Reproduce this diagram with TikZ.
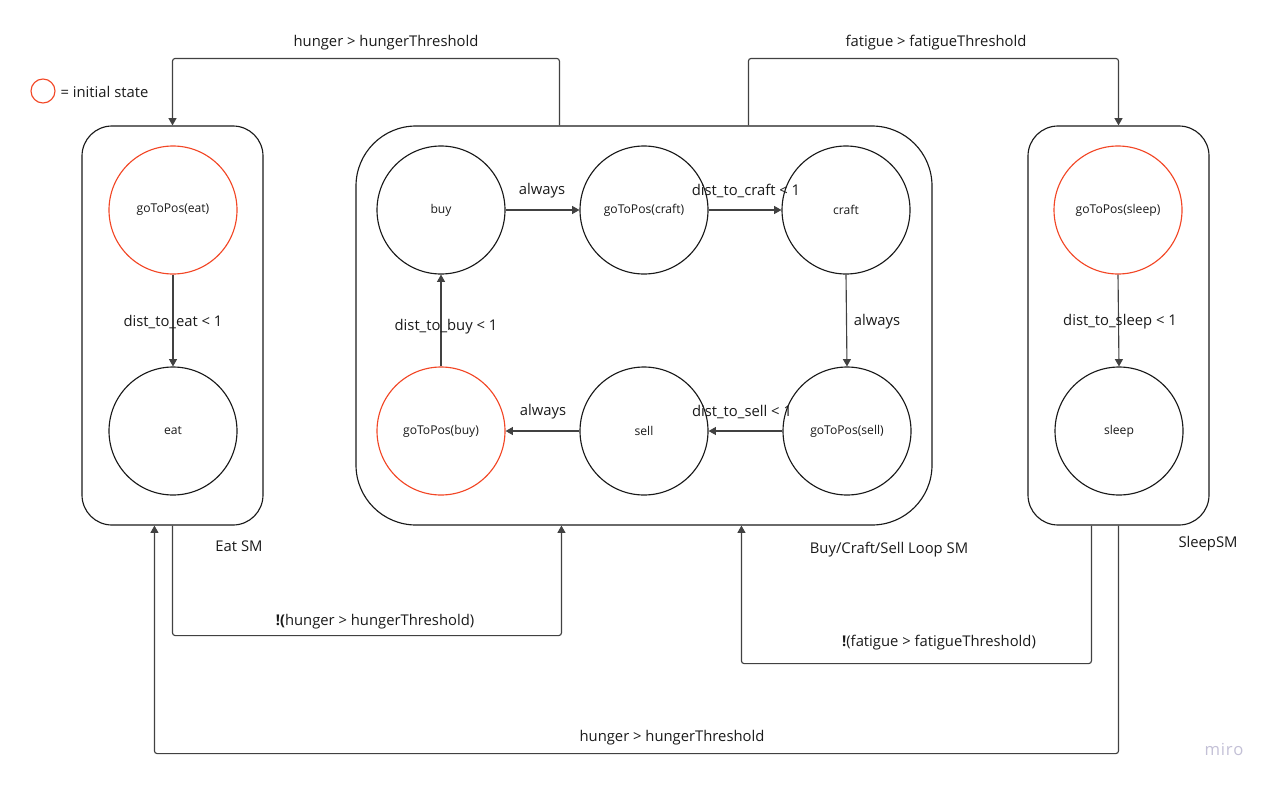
\documentclass[tikz,border=0pt]{standalone}
\usepackage{fontspec}
\setmainfont{Open Sans}
\usetikzlibrary{arrows.meta,calc,shapes.geometric}
\definecolor{mred}{HTML}{F24726}
\definecolor{mline}{HTML}{1A1A1A}
\definecolor{mconn}{HTML}{414141}
\definecolor{mtext}{HTML}{1A1A1A}
\definecolor{mwm}{HTML}{C3C0D6}
\tikzset{
  st/.style={circle,draw=mline,line width=0.85pt,minimum size=96pt,inner sep=0pt,font=\fontsize{9.1}{11}\selectfont,text=mtext},
  ist/.style={st,draw=mred},
  smbox/.style={draw=mline,line width=0.85pt,rounded corners=22.5pt,minimum width=135.75pt,minimum height=299.25pt,inner sep=0pt},
  lbl/.style={font=\fontsize{11.1}{13}\selectfont,text=mtext,inner sep=1pt},
  conn/.style={draw=mconn,line width=0.85pt,rounded corners=2pt,-{Triangle[length=5.5pt,width=6pt]}},
  tr/.style={draw=mconn,line width=0.85pt,-{Triangle[length=5.5pt,width=6pt]}},
}
\begin{document}
\begin{tikzpicture}[x=0.75pt,y=-0.75pt]
\useasboundingbox (0,0) rectangle (1273,785);
% legend
\node[draw=mred,line width=0.85pt,circle,minimum size=18pt,inner sep=0pt] (leg) at (43,91) {};
\node[lbl,anchor=west] (legt) at (59,92) {= initial state};
% boxes
\node[smbox] (eatbox) at (172.5,325.5) {};
\node[smbox,rounded corners=45pt,minimum width=432pt] (bcs) at (644,325.5) {};
\node[smbox] (sleepbox) at (1118.5,325.5) {};
\node[lbl] (eatlbl) at (239,546) {Eat SM};
\node[lbl] (bcslbl) at (889,550) {Buy/Craft/Sell Loop SM};
\node[lbl] (sleeplbl) at (1208,544) {SleepSM};
% eat SM
\node[ist] (goeat) at (173,210) {goToPos(eat)};
\node[st] (eat) at (173,431) {eat};
\draw[tr] (goeat) -- (eat);
\node[lbl] (l1) at (173,322) {dist\_to\_eat < 1};
% BCS
\node[st] (buy) at (441,210) {buy};
\node[st] (gocraft) at (644,210) {goToPos(craft)};
\node[st] (craft) at (846,210) {craft};
\node[ist] (gobuy) at (441,431) {goToPos(buy)};
\node[st] (sell) at (644,431) {sell};
\node[st] (gosell) at (847,431) {goToPos(sell)};
\draw[tr] (buy) -- (gocraft);
\node[lbl] (l2) at (542,191) {always};
\draw[tr] (gocraft) -- (craft);
\node[lbl] (l3) at (746,191) {dist\_to\_craft < 1};
\draw[tr] (craft.south) -- (gosell.north);
\node[lbl] (l4) at (877,322) {always};
\draw[tr] (gosell) -- (sell);
\node[lbl] (l5) at (742,412) {dist\_to\_sell < 1};
\draw[tr] (sell) -- (gobuy);
\node[lbl] (l6) at (543,412) {always};
\draw[tr] (gobuy) -- (buy);
\node[lbl] (l7) at (446,327) {dist\_to\_buy < 1};
% sleep SM
\node[ist] (gosleep) at (1118,210) {goToPos(sleep)};
\node[st] (sleep) at (1119,431) {sleep};
\draw[tr] (gosleep.south) -- (sleep.north);
\node[lbl] (l8) at (1120,322) {dist\_to\_sleep < 1};
% connectors between SMs
\draw[conn] ($(bcs.north west)+(204,0)$) |- ($(eatbox.north)+(0,-67)$) -- (eatbox.north);
\node[lbl] (c1) at (386,43) {hunger > hungerThreshold};
\draw[conn] ($(bcs.north west)+(393,0)$) |- ($(sleepbox.north)+(0,-67)$) -- (sleepbox.north);
\node[lbl] (c2) at (936,43) {fatigue > fatigueThreshold};
\draw[conn] (eatbox.south) |- ($(bcs.south west)+(206,110)$) -- ($(bcs.south west)+(206,0)$);
\node[lbl] (c3) at (375,622) {\textbf{!(}hunger > hungerThreshold)};
\draw[conn] ($(sleepbox.south west)+(64,0)$) |- ($(bcs.south west)+(386,138)$) -- ($(bcs.south west)+(386,0)$);
\node[lbl] (c4) at (939,643) {\textbf{!}(fatigue > fatigueThreshold)};
\draw[conn] (sleepbox.south) |- ($(eatbox.south west)+(73,228)$) -- ($(eatbox.south west)+(73,0)$);
\node[lbl] (c5) at (672,738) {hunger > hungerThreshold};
\node[font=\fontsize{12.5}{14}\selectfont,text=mwm] (wm) at (1224,749) {m\kern0.6pt i\kern0.6pt r\kern0.6pt o};
\end{tikzpicture}
\end{document}
